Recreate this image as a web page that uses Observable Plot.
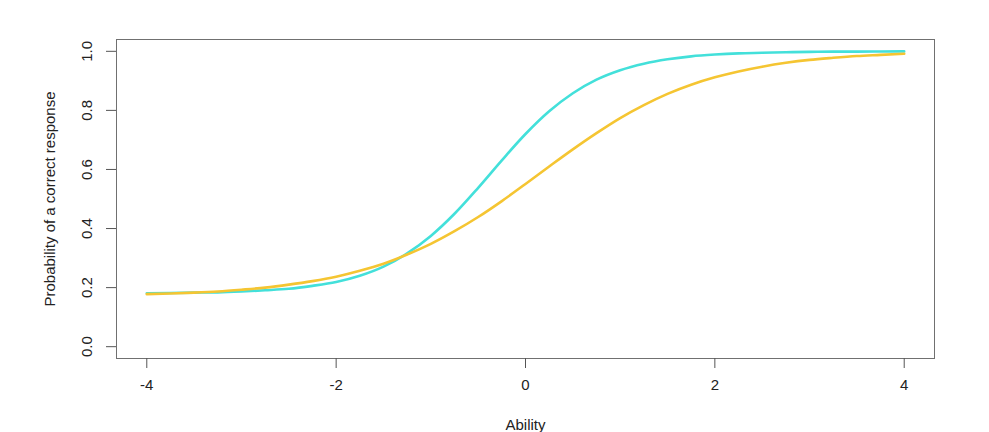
<!DOCTYPE html>
<html>
<head>
<meta charset="utf-8">
<script src="https://cdn.jsdelivr.net/npm/d3@7"></script>
<script src="https://cdn.jsdelivr.net/npm/@observablehq/plot@0.6"></script>
<style>
  body { margin: 0; background: #fff; }
  svg { font-family: "Liberation Sans", Arial, sans-serif; }
</style>
</head>
<body>
<div id="chart"></div>
<script>
const ability = [-4, -3.75, -3.5, -3.25, -3, -2.75, -2.5, -2.25, -2, -1.75, -1.5, -1.25, -1, -0.75, -0.5, -0.25, 0,
  0.25, 0.5, 0.75, 1, 1.25, 1.5, 1.75, 2, 2.25, 2.5, 2.75, 3, 3.25, 3.5, 3.75, 4];
const itemA = [0.181, 0.182, 0.183, 0.184, 0.187, 0.191, 0.196, 0.206, 0.219, 0.240, 0.271, 0.316, 0.375, 0.450, 0.538, 0.631, 0.720,
  0.797, 0.858, 0.904, 0.936, 0.958, 0.973, 0.983, 0.989, 0.993, 0.995, 0.997, 0.998, 0.999, 0.999, 0.9995, 0.9997];
const itemB = [0.178, 0.180, 0.183, 0.187, 0.193, 0.200, 0.210, 0.222, 0.237, 0.257, 0.281, 0.312, 0.348, 0.391, 0.439, 0.493, 0.551,
  0.610, 0.668, 0.723, 0.774, 0.818, 0.856, 0.887, 0.912, 0.932, 0.948, 0.961, 0.971, 0.978, 0.984, 0.988, 0.992];
const xTicks = [-4, -2, 0, 2, 4];
const yTicks = [0, 0.2, 0.4, 0.6, 0.8, 1.0];

const rows = [];
ability.forEach((a, i) => rows.push({ability: a, p: itemA[i], item: "Item A"}));
ability.forEach((a, i) => rows.push({ability: a, p: itemB[i], item: "Item B"}));

const chart = Plot.plot({
  width: 989,
  height: 432,
  marginLeft: 116,
  marginRight: 55,
  marginTop: 39,
  marginBottom: 74,
  style: {fontFamily: "'Liberation Sans', Arial, sans-serif", fontSize: "15px", color: "#222"},
  x: {domain: [-4.32, 4.32]},
  y: {domain: [-0.04, 1.04]},
  color: {domain: ["Item A", "Item B"], range: ["#43E0DA", "#F5C532"]},
  marks: [
    Plot.frame({stroke: "#707070", strokeWidth: 1}),
    Plot.axisX({ticks: xTicks, tickSize: 10, tickPadding: 11, tickFormat: d => String(d),
      stroke: "#555", fill: "#222", label: "Ability", labelAnchor: "center", labelArrow: "none", labelOffset: 71, fontSize: 15}),
    Plot.axisY({ticks: yTicks, tickSize: 10, tickPadding: 15, tickRotate: -90, tickFormat: d => d.toFixed(1),
      stroke: "#555", fill: "#222", label: "Probability of a correct response", labelAnchor: "center", labelArrow: "none", labelOffset: 72, fontSize: 15}),
    Plot.line(rows, {x: "ability", y: "p", z: "item", stroke: "item", strokeWidth: 2.6, curve: "monotone-x"})
  ]
});
document.getElementById("chart").appendChild(chart);
</script>
</body>
</html>
